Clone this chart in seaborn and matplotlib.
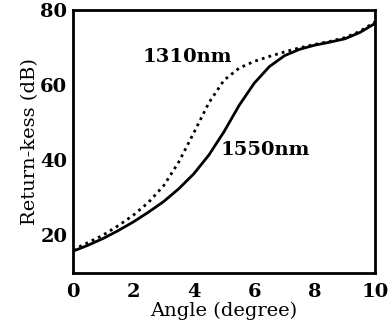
import matplotlib
matplotlib.use("Agg")
import matplotlib.pyplot as plt
import seaborn as sns
import pandas as pd

angle = [0, 0.5, 1, 1.5, 2, 2.5, 3, 3.5, 4, 4.5, 5, 5.5, 6, 6.5, 7, 7.5, 8, 8.5, 9, 9.5, 10]
loss_1550 = [15.8, 17.4, 19.2, 21.3, 23.6, 26.2, 29.0, 32.4, 36.4, 41.4, 47.6, 54.6, 60.5, 64.9, 67.8, 69.5, 70.6, 71.4, 72.3, 74.0, 76.4]
loss_1310 = [16.2, 18.1, 20.1, 22.6, 25.4, 28.8, 33.2, 39.5, 47.3, 55.3, 61.3, 64.5, 66.3, 67.6, 68.8, 69.9, 70.8, 71.6, 72.6, 74.3, 76.8]

sns.set_style("white")
plt.rcParams['font.family'] = ['DejaVu Serif']
plt.rcParams['text.color'] = 'black'
plt.rcParams['axes.labelcolor'] = 'black'
plt.rcParams['xtick.color'] = 'black'
plt.rcParams['ytick.color'] = 'black'
plt.rcParams['axes.edgecolor'] = 'black'

df = pd.DataFrame({'angle': angle + angle,
                   'loss': loss_1550 + loss_1310,
                   'wl': ['1550nm'] * len(angle) + ['1310nm'] * len(angle)})

fig, ax = plt.subplots(figsize=(3.9, 3.27), dpi=100)
sns.lineplot(data=df, x='angle', y='loss', style='wl', style_order=['1550nm', '1310nm'],
             dashes={'1550nm': '', '1310nm': (1, 1.5)}, color='black', linewidth=2,
             legend=False, ax=ax)

ax.text(2.3, 66.0, '1310nm', fontsize=14, fontweight='bold')
ax.text(4.9, 41.5, '1550nm', fontsize=14, fontweight='bold')

ax.set_xlim(0, 10)
ax.set_ylim(10, 80)
ax.set_xticks([0, 2, 4, 6, 8, 10])
ax.set_yticks([20, 40, 60, 80])
ax.tick_params(direction='in', length=5, width=2, labelsize=14, pad=4)
ax.tick_params(axis='x', pad=7)
for lbl in ax.get_xticklabels() + ax.get_yticklabels():
    lbl.set_fontweight('bold')
for s in ax.spines.values():
    s.set_linewidth(2)
ax.set_xlabel('Angle (degree)', fontsize=14, labelpad=1)
ax.set_ylabel('Return-kess (dB)', fontsize=14, labelpad=1)

plt.subplots_adjust(left=0.187, right=0.962, top=0.97, bottom=0.165)
plt.savefig('out.png')
